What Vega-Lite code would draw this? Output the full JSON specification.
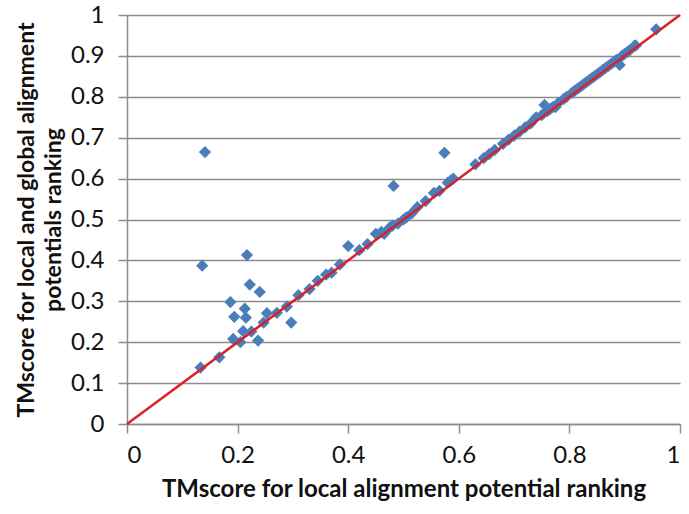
{
  "$schema": "https://vega.github.io/schema/vega-lite/v6.json",
  "autosize": {"type": "none"},
  "width": 553,
  "height": 409,
  "padding": {"left": 127, "top": 15, "right": 9, "bottom": 90},
  "background": "white",
  "config": {
    "view": {"stroke": null},
    "font": "Lato",
    "axis": {
      "labelFont": "Lato",
      "titleFont": "Lato",
      "labelColor": "#111111",
      "titleColor": "#111111",
      "domainColor": "#8c8c8c",
      "tickColor": "#8c8c8c",
      "gridColor": "#8c8c8c",
      "domainWidth": 1.5,
      "tickWidth": 1.5,
      "gridWidth": 1.5,
      "labelFontSize": 24,
      "titleFontSize": 24,
      "titleFontWeight": "bold",
      "tickSize": 9,
      "format": ".1~f"
    }
  },
  "data": {
    "values": [
      {"x": 0.141, "y": 0.665}, {"x": 0.136, "y": 0.387}, {"x": 0.217, "y": 0.413},
      {"x": 0.222, "y": 0.341}, {"x": 0.240, "y": 0.323}, {"x": 0.187, "y": 0.298},
      {"x": 0.213, "y": 0.282}, {"x": 0.194, "y": 0.262}, {"x": 0.215, "y": 0.260},
      {"x": 0.253, "y": 0.271}, {"x": 0.271, "y": 0.272}, {"x": 0.289, "y": 0.287},
      {"x": 0.297, "y": 0.248}, {"x": 0.247, "y": 0.248}, {"x": 0.225, "y": 0.226},
      {"x": 0.210, "y": 0.227}, {"x": 0.192, "y": 0.208}, {"x": 0.205, "y": 0.200},
      {"x": 0.237, "y": 0.204}, {"x": 0.167, "y": 0.163}, {"x": 0.133, "y": 0.138},
      {"x": 0.574, "y": 0.663}, {"x": 0.482, "y": 0.582},
      {"x": 0.31, "y": 0.315}, {"x": 0.33, "y": 0.33}, {"x": 0.345, "y": 0.35},
      {"x": 0.36, "y": 0.365}, {"x": 0.37, "y": 0.37}, {"x": 0.385, "y": 0.39},
      {"x": 0.40, "y": 0.435}, {"x": 0.42, "y": 0.425}, {"x": 0.435, "y": 0.44},
      {"x": 0.45, "y": 0.465}, {"x": 0.46, "y": 0.47}, {"x": 0.465, "y": 0.465},
      {"x": 0.475, "y": 0.48}, {"x": 0.48, "y": 0.485}, {"x": 0.49, "y": 0.49},
      {"x": 0.50, "y": 0.50}, {"x": 0.505, "y": 0.505}, {"x": 0.515, "y": 0.515},
      {"x": 0.525, "y": 0.53}, {"x": 0.54, "y": 0.545}, {"x": 0.555, "y": 0.565},
      {"x": 0.565, "y": 0.57}, {"x": 0.58, "y": 0.59}, {"x": 0.59, "y": 0.60},
      {"x": 0.585, "y": 0.595}, {"x": 0.63, "y": 0.635}, {"x": 0.645, "y": 0.65},
      {"x": 0.655, "y": 0.66}, {"x": 0.665, "y": 0.67}, {"x": 0.68, "y": 0.685},
      {"x": 0.69, "y": 0.695}, {"x": 0.70, "y": 0.705}, {"x": 0.71, "y": 0.715},
      {"x": 0.72, "y": 0.725}, {"x": 0.73, "y": 0.735}, {"x": 0.74, "y": 0.75},
      {"x": 0.75, "y": 0.755}, {"x": 0.755, "y": 0.78}, {"x": 0.76, "y": 0.765},
      {"x": 0.765, "y": 0.77}, {"x": 0.77, "y": 0.775}, {"x": 0.775, "y": 0.775},
      {"x": 0.78, "y": 0.785}, {"x": 0.79, "y": 0.795}, {"x": 0.795, "y": 0.80},
      {"x": 0.805, "y": 0.81}, {"x": 0.81, "y": 0.815}, {"x": 0.815, "y": 0.82},
      {"x": 0.82, "y": 0.825}, {"x": 0.825, "y": 0.83}, {"x": 0.83, "y": 0.835},
      {"x": 0.835, "y": 0.84}, {"x": 0.84, "y": 0.845}, {"x": 0.845, "y": 0.85},
      {"x": 0.85, "y": 0.855}, {"x": 0.855, "y": 0.86}, {"x": 0.86, "y": 0.865},
      {"x": 0.865, "y": 0.87}, {"x": 0.87, "y": 0.875}, {"x": 0.875, "y": 0.88},
      {"x": 0.88, "y": 0.885}, {"x": 0.885, "y": 0.89}, {"x": 0.891, "y": 0.878},
      {"x": 0.895, "y": 0.90}, {"x": 0.90, "y": 0.905}, {"x": 0.905, "y": 0.91},
      {"x": 0.91, "y": 0.915}, {"x": 0.918, "y": 0.925}, {"x": 0.92, "y": 0.925},
      {"x": 0.957, "y": 0.965}
    ]
  },
  "layer": [
    {
      "mark": {"type": "point", "shape": "diamond", "filled": true, "size": 150, "color": "#4a7ebb", "opacity": 1},
      "encoding": {
        "x": {
          "field": "x", "type": "quantitative",
          "scale": {"domain": [0, 1], "nice": false, "zero": true},
          "axis": {
            "values": [0, 0.2, 0.4, 0.6, 0.8, 1],
            "grid": false,
            "labelPadding": 10,
            "title": "TMscore for local  alignment potential ranking",
            "titlePadding": 10
          }
        },
        "y": {
          "field": "y", "type": "quantitative",
          "scale": {"domain": [0, 1], "nice": false},
          "axis": {
            "values": [0, 0.1, 0.2, 0.3, 0.4, 0.5, 0.6, 0.7, 0.8, 0.9, 1],
            "grid": true,
            "labelPadding": 14,
            "title": ["TMscore for local  and global alignment", "potentials ranking"],
            "titleFontSize": 23,
            "titleLineHeight": 27,
            "titlePadding": 5
          }
        }
      }
    },
    {
      "data": {"values": [{"x": 0, "y": 0}, {"x": 1, "y": 1}]},
      "mark": {"type": "line", "color": "#d9212a", "strokeWidth": 2.5},
      "encoding": {
        "x": {"field": "x", "type": "quantitative"},
        "y": {"field": "y", "type": "quantitative"}
      }
    }
  ]
}
